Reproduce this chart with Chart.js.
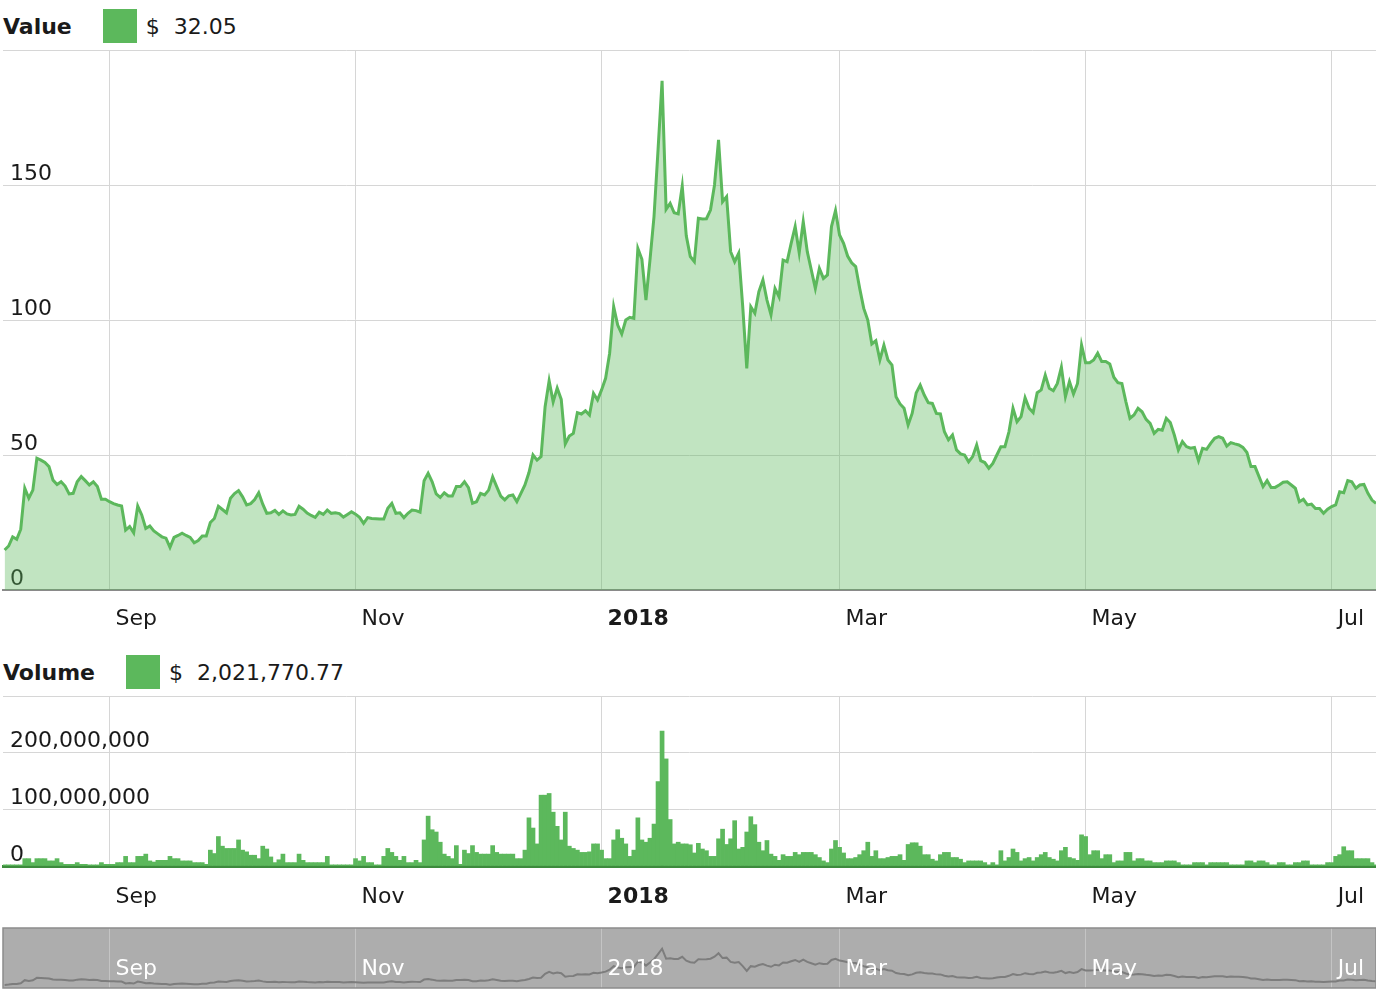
<!DOCTYPE html>
<html>
<head>
<meta charset="utf-8">
<script src="https://cdn.jsdelivr.net/npm/chart.js@4.4.1/dist/chart.umd.min.js"></script>
<style>
  body { margin: 0; background: #fff; width: 1376px; height: 1000px; position: relative; overflow: hidden;
         font-family: "DejaVu Sans", Verdana, sans-serif; color: #1a1a1a; }
  .hdr { position: absolute; left: 3px; height: 34px; display: flex; align-items: center; font-size: 22px; white-space: pre; }
  .hdr b { font-weight: bold; }
  .sw { width: 34px; height: 34px; background: #5cb85c; margin-left: 31px; margin-right: 9px; }
  canvas { position: absolute; left: 0; }
</style>
</head>
<body>
<div class="hdr" style="top:9px"><b>Value</b><span class="sw"></span><span>$  32.05</span></div>
<div class="hdr" style="top:655px"><b>Volume</b><span class="sw"></span><span>$  2,021,770.77</span></div>
<canvas id="valueChart" width="1376" height="590" style="top:40px"></canvas>
<canvas id="volumeChart" width="1376" height="230" style="top:690px"></canvas>
<canvas id="navChart" width="1376" height="64" style="top:926px"></canvas>
<script>
// daily closing value, 6 Aug 2017 .. 11 Jul 2018
var values = [
  14.8,16.3,19.7,18.8,22.5,37.7,34,37,48.8,48.1,
  47.2,45.7,40.7,39.1,40.1,38.5,35.6,35.8,40.1,42,
  40.5,38.9,40.1,38.3,33.6,33.6,32.7,32,31.5,31.1,
  22.2,23.5,21.2,31.1,27.8,22.8,23.7,21.9,20.8,19.7,
  19.2,15.8,19.5,20.2,21,20.2,19.5,17.5,18.3,20,
  20,25,26.5,31,29.8,28.6,34,35.7,36.8,34.5,
  31.5,32,33.5,36,31.8,28.4,28.6,29.5,28,29.3,
  28.2,27.8,28,31,29.9,28.5,27.6,26.9,28.8,28,
  29.6,28.4,28.6,28.3,27,28,29,28.1,26.9,24.7,
  26.8,26.5,26.4,26.3,26.3,30.3,32.1,28.4,28.6,26.8,
  28.4,29.6,29.4,28.8,40.5,43.2,40.1,35.6,34.3,36,
  34.8,34.8,38.3,38.3,40.1,37.9,32.1,32.7,35.8,35.2,
  37,41.9,38.3,34.8,33.4,34.9,35.2,32.7,35.8,38.9,
  43.5,50,48.1,49.4,67.9,77.5,69.7,74.8,70.6,54.1,
  57,58,65.7,65.2,66.4,64.8,72.8,70.4,74.1,78.4,
  87.7,104.9,98.1,94.8,100,101,100.6,126.5,122.5,107.4,
  122.2,138.3,163,188.6,141,143.2,139.7,139.3,149.6,131.2,
  123.5,121.6,137.7,137.4,137.5,140.7,150,166.7,143.8,145.7,
  125.3,121.6,124.7,104.9,82.1,104.9,102.5,110.5,114.8,107.4,
  101.9,111.7,108.6,122.2,121.6,128.4,134.6,124.9,136.4,125.3,
  118.5,111.7,119.1,115.4,116.7,134.6,140.5,131.5,128.4,123.7,
  121.2,119.8,111.7,104.3,100,91.1,92.3,85.2,90.7,85.2,
  83.3,71.6,68.9,67.3,61.1,65.4,73,75.9,72.2,69.4,
  69.1,65.4,65.2,58.6,55.6,57.4,51.9,50.4,50,47.5,
  49.4,53.7,47.9,47.2,45.1,46.9,50,53.1,53.1,58.6,
  67.3,62.3,64.2,71.2,67.3,65.7,73.1,74.1,79.6,74.7,
  73.8,76.5,82.5,71.6,77.2,72.6,76.5,90.7,84.2,84.2,
  85.2,87.7,84.6,84.6,83.7,78.8,76.8,76.5,69.7,63.6,
  64.8,67.3,66,63.2,61.7,58,59.5,59.2,63.6,62,
  57.4,51.9,55,53.1,52.5,52.8,47.9,52.5,52.1,54.3,
  56.2,56.8,56.2,53.3,54.6,54.1,53.7,52.8,50.9,45.7,
  45.7,42,38.3,40.5,38,38,38.9,39.9,40.1,38.9,
  37.7,32.7,33.6,31.5,31.8,30.2,30.2,28.4,29.9,30.9,
  31.5,36.4,36,40.5,40.1,37.7,38.9,39.1,35.8,33.3,
  32.05
];

// daily traded volume, millions of dollars
var volumes = [
  2,2,2,2,2,13,13,6,13,13,
  13,9,9,13,6,3,3,3,6,3,
  3,2,2,2,6,3,3,3,6,6,
  17,6,6,17,17,21,9,7,10,10,
  10,17,13,13,9,9,9,6,6,6,
  3,28,22,52,35,31,31,31,46,28,
  25,19,19,13,35,30,16,6,11,21,
  6,6,6,21,10,6,6,6,6,6,
  17,2,2,2,2,2,2,13,9,17,
  6,6,2,2,17,31,24,17,10,17,
  6,6,10,6,46,88,64,60,42,21,
  17,13,36,3,28,22,36,24,21,21,
  21,36,24,21,21,21,21,13,13,28,
  85,67,39,125,125,128,95,70,46,95,
  35,31,28,24,24,25,39,39,28,13,
  13,46,64,49,39,17,28,85,46,42,
  49,74,149,238,189,82,39,42,39,39,
  37.5,23,40,30,27,17,17,48,65,38,
  48,80,30,33,60,87,73,42,27,45,
  21,17,10,20,17,17,24,20,24,24,
  24,20,15,9,6,30,45,33,23,13,
  13,15,20,27,42,17,27,13,13,15,
  17,17,20,10,38,41,41,35,20,20,
  12,9,20,24,24,15,15,12,6,9,
  9,9,9,6,2,6,2,27,9,15,
  30,24,9,13,15,9,15,20,24,15,
  12,9,27,33,15,13,10,55,52,20,
  27,27,13,20,20,6,9,9,24,24,
  9,13,13,9,9,6,6,6,9,9,
  9,6,2,2,2,6,6,6,2,6,
  6,6,6,6,2,2,2,2,9,9,
  6,9,9,6,2,2,6,6,2,2,
  6,6,9,9,2,2,2,2,6,6,
  17,20,34,27,27,13,13,13,13,6,
  2.02
];

// first day of the labelled months, counted from 6 Aug 2017
var tickDays = [26, 87, 148, 207, 268, 329];
var tickLabels = ['Sep', 'Nov', '2018', 'Mar', 'May', 'Jul'];

var GREEN = '#5cb85c';
var GRID = '#d6d6d6';

Chart.defaults.font.family = '"DejaVu Sans", Verdana, sans-serif';
Chart.defaults.font.size = 22;
Chart.defaults.color = '#1a1a1a';
Chart.defaults.animation = false;

function points(arr) {
  return arr.map(function (v, i) { return { x: i, y: v }; });
}

function dayAxis(height, pad, border) {
  return {
    type: 'linear', min: -0.4, max: values.length - 1, offset: false,
    afterBuildTicks: function (s) { s.ticks = tickDays.map(function (d) { return { value: d }; }); },
    afterFit: function (s) { s.height = height; s.paddingLeft = 0; s.paddingRight = 0; },
    grid: { color: GRID, lineWidth: 1, drawTicks: false, offset: false },
    border: border,
    ticks: {
      autoSkip: false, maxRotation: 0, align: 'start', labelOffset: 6, padding: pad,
      callback: function (v) { var i = tickDays.indexOf(v); return i < 0 ? '' : tickLabels[i]; },
      font: function (c) { return { weight: c.tick && c.tick.value === 148 ? 'bold' : 'normal' }; }
    }
  };
}

function sideAxis(max, step, label) {
  return {
    min: 0, max: max,
    afterFit: function (s) { s.width = 0; s.paddingTop = 0; s.paddingBottom = 0; },
    grid: { color: GRID, drawTicks: false },
    border: { display: false },
    ticks: { stepSize: step, mirror: true, padding: 7, labelOffset: -11,
      callback: function (v) { return v === max ? '' : label(v); } }
  };
}

var valueChart = new Chart(document.getElementById('valueChart'), {
  type: 'line',
  data: {
    datasets: [{
      data: points(values),
      borderColor: GREEN,
      borderWidth: 3,
      backgroundColor: 'rgba(92,184,92,0.38)',
      fill: 'origin',
      pointRadius: 0,
      tension: 0
    }]
  },
  options: {
    responsive: false, events: [],
    layout: { padding: { left: 3, top: 10, right: 0, bottom: 0 } },
    plugins: { legend: { display: false }, tooltip: { enabled: false } },
    scales: {
      x: dayAxis(40, 16, { color: '#8a8a8a', width: 2 }),
      y: sideAxis(200, 50, function (v) { return v; })
    }
  }
});

var volumeChart = new Chart(document.getElementById('volumeChart'), {
  type: 'bar',
  data: {
    datasets: [{
      data: points(volumes),
      backgroundColor: GREEN,
      borderWidth: 0,
      barPercentage: 1,
      categoryPercentage: 1
    }]
  },
  options: {
    responsive: false, events: [],
    layout: { padding: { left: 3, top: 6, right: 0, bottom: 0 } },
    plugins: { legend: { display: false }, tooltip: { enabled: false } },
    scales: {
      x: dayAxis(54, 18, { color: '#3d8b3d', width: 3 }),
      y: sideAxis(300, 100, function (v) { return (v * 1000000).toLocaleString('en-US'); })
    }
  }
});

var navPlugin = {
  id: 'navigator',
  beforeDraw: function (chart) {
    var a = chart.chartArea, ctx = chart.ctx;
    ctx.save();
    ctx.fillStyle = '#adadad';
    ctx.fillRect(a.left, a.top, a.right - a.left, a.bottom - a.top);
    ctx.restore();
  },
  afterDraw: function (chart) {
    var a = chart.chartArea, ctx = chart.ctx, x = chart.scales.x;
    ctx.save();
    ctx.strokeStyle = '#8c8c8c';
    ctx.lineWidth = 1.5;
    ctx.strokeRect(a.left, a.top, a.right - a.left, a.bottom - a.top);
    ctx.fillStyle = '#ffffff';
    ctx.textBaseline = 'middle';
    ctx.textAlign = 'left';
    ctx.font = '22px "DejaVu Sans", Verdana, sans-serif';
    tickDays.forEach(function (d, i) {
      ctx.fillText(tickLabels[i], x.getPixelForValue(d) + 6, 43);
    });
    ctx.restore();
  }
};

var navChart = new Chart(document.getElementById('navChart'), {
  type: 'line',
  data: {
    datasets: [{
      data: points(values),
      borderColor: '#7d7d7d',
      borderWidth: 2,
      pointRadius: 0,
      fill: false,
      tension: 0
    }]
  },
  options: {
    responsive: false, events: [],
    layout: { padding: { left: 3, top: 2, right: 0, bottom: 2 } },
    plugins: { legend: { display: false }, tooltip: { enabled: false } },
    scales: {
      x: {
        type: 'linear', min: -0.4, max: values.length - 1,
        afterBuildTicks: function (s) { s.ticks = tickDays.map(function (d) { return { value: d }; }); },
        afterFit: function (s) { s.height = 0; },
        grid: { color: '#c4c4c4', drawTicks: false },
        border: { display: false },
        ticks: { display: false }
      },
      y: { display: false, min: 0, max: 288 }
    }
  },
  plugins: [navPlugin]
});
</script>
</body>
</html>
